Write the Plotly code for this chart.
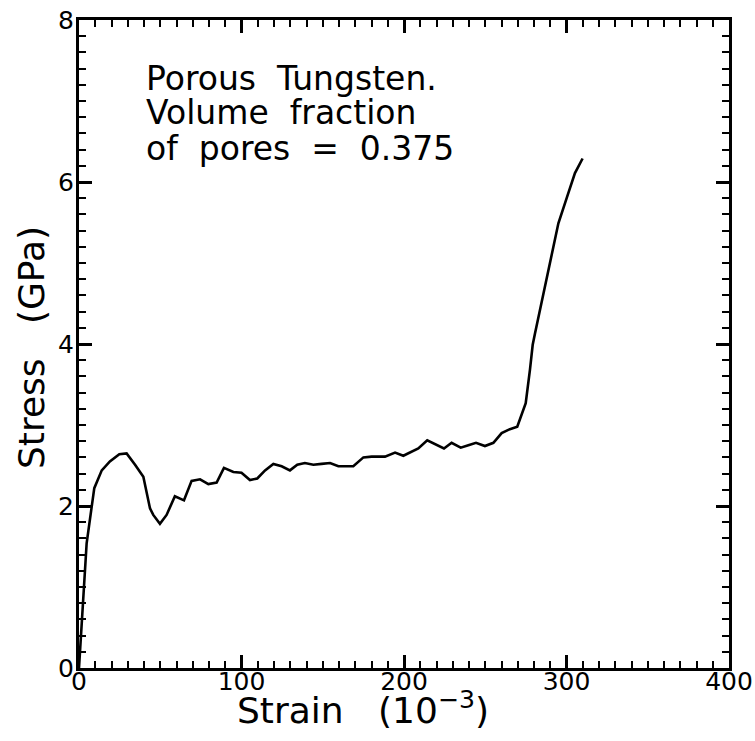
import plotly.graph_objects as go

strain = [0, 1.6, 4.7, 7.8, 9.4, 14, 19, 24.8, 29.3, 34.5, 39.6, 43.7, 45.7, 49.8,
          53.9, 59, 64.6, 69.3, 74.5, 79.6, 84.7, 89.2, 95, 100, 105.2, 109.7, 114.5,
          119.6, 124.7, 129.8, 134.3, 139, 144.2, 149.3, 154.5, 159.6, 168.8, 175,
          180.1, 188.3, 194.5, 199.6, 208.8, 214.3, 219.7, 224.6, 229.3, 234.9, 239.6,
          244.3, 249.8, 255, 260.1, 264.2, 269.7, 274.9, 277.5, 279.2, 280.6, 284.7,
          288.8, 292.9, 295, 300.1, 305.2, 309.9]
stress = [0, 0.51, 1.54, 1.99, 2.22, 2.44, 2.55, 2.64, 2.65, 2.51, 2.36, 1.97, 1.89, 1.78,
          1.89, 2.12, 2.07, 2.31, 2.33, 2.27, 2.29, 2.47, 2.42, 2.41, 2.32, 2.34, 2.44,
          2.52, 2.49, 2.44, 2.51, 2.53, 2.51, 2.52, 2.53, 2.49, 2.49, 2.60,
          2.61, 2.61, 2.66, 2.62, 2.71, 2.81, 2.76, 2.71, 2.78, 2.72, 2.75,
          2.78, 2.74, 2.78, 2.90, 2.94, 2.98, 3.27, 3.68, 3.99, 4.13, 4.52,
          4.91, 5.27, 5.49, 5.80, 6.11, 6.29]

x_range = [0, 400]
y_range = [0, 8]

NB = "\u00a0"
note_lines = ["Porous" + NB * 2 + "Tungsten.",
              "Volume" + NB * 2 + "fraction",
              "of" + NB * 2 + "pores" + NB * 2 + "=" + NB * 2 + "0.375"]
x_title = "Strain" + NB * 3 + "(10<sup>−3</sup>)"
y_title = "Stress" + NB * 3 + "(GPa)"

FONT = "DejaVu Sans"
TICKFONT = dict(family=FONT, size=25, color="black")

fig = go.Figure()
fig.add_trace(go.Scatter(x=strain, y=stress, mode="lines",
                         line=dict(color="black", width=2.6), showlegend=False,
                         hoverinfo="skip"))
# invisible trace carrying the label-only axes
fig.add_trace(go.Scatter(x=x_range, y=y_range, xaxis="x2", yaxis="y2", mode="markers",
                         marker=dict(opacity=0), showlegend=False, hoverinfo="skip"))

axis_common = dict(
    showline=True, linecolor="black", linewidth=3, mirror="ticks",
    ticks="inside", tickcolor="black", tickwidth=2.5, ticklen=13,
    showgrid=False, zeroline=False, automargin=False, showticklabels=False,
)
fig.update_layout(
    xaxis=dict(range=x_range, dtick=100, tick0=0,
               minor=dict(dtick=10, ticklen=7, tickwidth=2, tickcolor="black", ticks="inside"),
               **axis_common),
    yaxis=dict(range=y_range, dtick=2, tick0=0,
               minor=dict(dtick=0.2, ticklen=7, tickwidth=2, tickcolor="black", ticks="inside"),
               **axis_common),
    xaxis2=dict(range=x_range, dtick=100, tick0=0, overlaying="x", anchor="free",
                position=0.0065, side="bottom", showline=False, ticks="", showgrid=False,
                zeroline=False, automargin=False, tickfont=TICKFONT, ticklabelstandoff=0),
    yaxis2=dict(range=y_range, dtick=2, tick0=0, overlaying="y", anchor="free",
                position=0, side="left", showline=False, ticks="", showgrid=False,
                zeroline=False, automargin=False, tickfont=TICKFONT, ticklabelstandoff=5),
)

ys = [7.28, 6.86, 6.41]
for line, yv in zip(note_lines, ys):
    fig.add_annotation(x=40.0, y=yv, xref="x", yref="y", text=line, showarrow=False,
                       xanchor="left", yanchor="middle",
                       font=dict(family=FONT, size=33, color="black"))

fig.add_annotation(x=0.437, y=-0.100, xref="paper", yref="paper", text=x_title,
                   showarrow=False, xanchor="center", yanchor="bottom",
                   font=dict(family=FONT, size=36, color="black"))
fig.add_annotation(x=-0.072, y=0.494, xref="paper", yref="paper", text=y_title,
                   showarrow=False, xanchor="center", yanchor="middle", textangle=-90,
                   font=dict(family=FONT, size=36, color="black"))

fig.update_layout(template="none", width=755, height=741,
                  margin=dict(l=79, r=26, t=20, b=73, autoexpand=False),
                  plot_bgcolor="white", paper_bgcolor="white")
fig.write_html("out.html")
